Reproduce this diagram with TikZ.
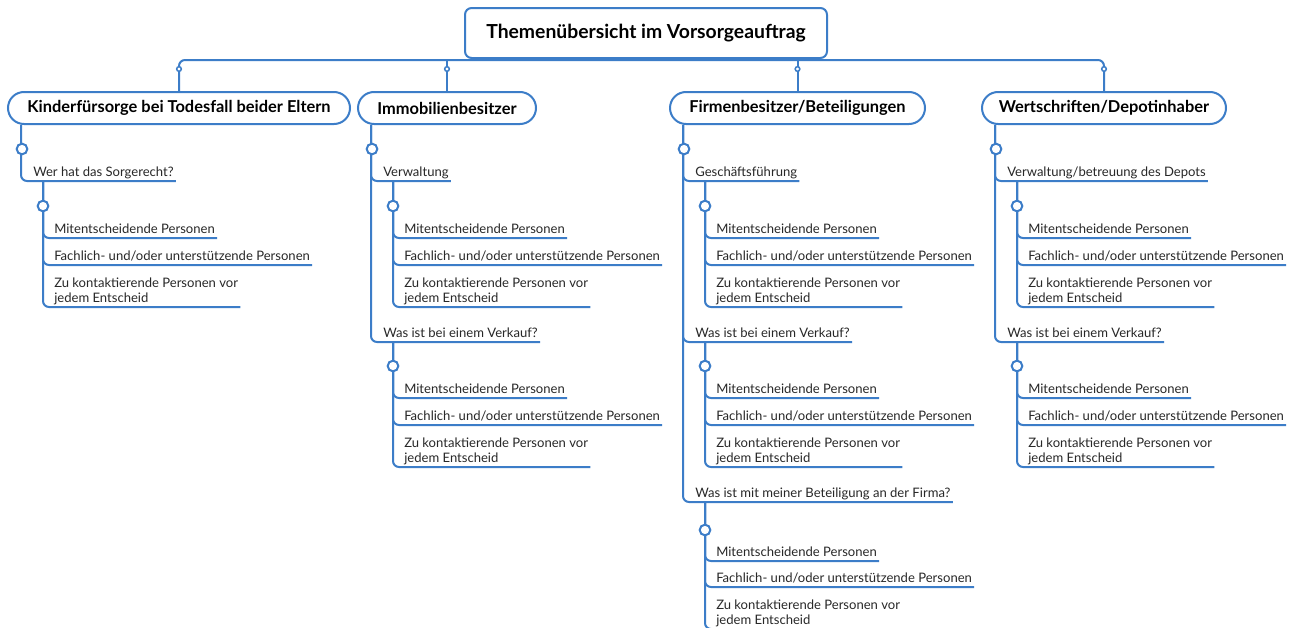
\documentclass[tikz,border=0pt]{standalone}
\usepackage{fontspec}
\setmainfont{Lato}
\definecolor{mapblue}{RGB}{60,125,200}
\definecolor{maptext}{RGB}{40,40,40}
\tikzset{
  link/.style={draw=mapblue, line width=1.5pt, rounded corners=4.5pt},
  knob/.style={circle, draw=mapblue, fill=white, line width=1.5pt, inner sep=0pt, minimum size=8pt},
  knobsmall/.style={circle, draw=mapblue, fill=white, line width=1.1pt, inner sep=0pt, minimum size=3.5pt},
  rootbox/.style={draw=mapblue, line width=1.5pt, fill=white, rounded corners=5pt, minimum width=271.5pt, minimum height=37.5pt, text=black, font=\bfseries\fontsize{14.5}{16}\selectfont},
  topicbox/.style={draw=mapblue, line width=1.5pt, fill=white, rounded corners=12pt, minimum height=24pt, text=black, font=\bfseries\fontsize{12.3}{14}\selectfont},
  item/.style={anchor=south west, inner xsep=1.5pt, inner ysep=0pt, text depth=3.3pt, align=left, text=maptext, font=\fontsize{9.8}{11.25}\selectfont},
}
\begin{document}
\begin{tikzpicture}[x=0.75pt, y=-0.75pt]
\useasboundingbox [fill=white] (0, 0) rectangle (1293, 628);

\node (root) at (646, 33) [rootbox] {Themenübersicht im Vorsorgeauftrag};
\node (k1) at (179, 108) [topicbox, minimum width=256.5pt] {Kinderfürsorge bei Todesfall beider Eltern};
\node (k2) at (447, 108) [topicbox, minimum width=133.5pt] {Immobilienbesitzer};
\node (k3) at (797.5, 108) [topicbox, minimum width=191.25pt] {Firmenbesitzer/Beteiligungen};
\node (k4) at (1104, 108) [topicbox, minimum width=183pt] {Wertschriften/Depotinhaber};
\coordinate (bar) at (0, 60);
\draw [link] (k1.north) -- (k1.north |- bar) -- (k4.north |- bar) -- (k4.north);
\draw [link] (k2.north) -- (k2.north |- bar);
\draw [link] (k3.north) -- (k3.north |- bar);
\node at (179, 69) [knobsmall] {};
\node at (447, 69) [knobsmall] {};
\node at (797.5, 69) [knobsmall] {};
\node at (1104, 69) [knobsmall] {};

% Kinderfuersorge
\node (k1a) at (31, 181) [item] {Wer hat das Sorgerecht?};
\draw [link] ([xshift=10.5pt]k1.south west) |- (k1a.south east);
\node (k1a1) at (52, 238) [item] {Mitentscheidende Personen};
\node (k1a2) at (52, 265) [item] {Fachlich- und/oder unterstützende Personen};
\node (k1a3) at (52, 307) [item] {Zu kontaktierende Personen vor\\jedem Entscheid};
\draw [link] ([xshift=9pt]k1a.south west) |- (k1a1.south east);
\draw [link] ([xshift=9pt]k1a.south west) |- (k1a2.south east);
\draw [link] ([xshift=9pt]k1a.south west) |- (k1a3.south east);
\node at (22, 149) [knob] {};
\node at (43, 206) [knob] {};

% Immobilienbesitzer
\node (k2a) at (381, 181) [item] {Verwaltung};
\node (k2b) at (381, 342) [item] {Was ist bei einem Verkauf?};
\draw [link] ([xshift=10.5pt]k2.south west) |- (k2a.south east);
\draw [link] ([xshift=10.5pt]k2.south west) |- (k2b.south east);
\node (k2a1) at (402, 238) [item] {Mitentscheidende Personen};
\node (k2a2) at (402, 265) [item] {Fachlich- und/oder unterstützende Personen};
\node (k2a3) at (402, 307) [item] {Zu kontaktierende Personen vor\\jedem Entscheid};
\draw [link] ([xshift=9pt]k2a.south west) |- (k2a1.south east);
\draw [link] ([xshift=9pt]k2a.south west) |- (k2a2.south east);
\draw [link] ([xshift=9pt]k2a.south west) |- (k2a3.south east);
\node (k2b1) at (402, 398) [item] {Mitentscheidende Personen};
\node (k2b2) at (402, 425) [item] {Fachlich- und/oder unterstützende Personen};
\node (k2b3) at (402, 467) [item] {Zu kontaktierende Personen vor\\jedem Entscheid};
\draw [link] ([xshift=9pt]k2b.south west) |- (k2b1.south east);
\draw [link] ([xshift=9pt]k2b.south west) |- (k2b2.south east);
\draw [link] ([xshift=9pt]k2b.south west) |- (k2b3.south east);
\node at (372, 149) [knob] {};
\node at (393, 206) [knob] {};
\node at (393, 366) [knob] {};

% Firmenbesitzer
\node (k3a) at (693, 181) [item] {Geschäftsführung};
\node (k3b) at (693, 342) [item] {Was ist bei einem Verkauf?};
\node (k3c) at (693, 502) [item] {Was ist mit meiner Beteiligung an der Firma?};
\draw [link] ([xshift=10.5pt]k3.south west) |- (k3a.south east);
\draw [link] ([xshift=10.5pt]k3.south west) |- (k3b.south east);
\draw [link] ([xshift=10.5pt]k3.south west) |- (k3c.south east);
\node (k3a1) at (714, 238) [item] {Mitentscheidende Personen};
\node (k3a2) at (714, 265) [item] {Fachlich- und/oder unterstützende Personen};
\node (k3a3) at (714, 307) [item] {Zu kontaktierende Personen vor\\jedem Entscheid};
\draw [link] ([xshift=9pt]k3a.south west) |- (k3a1.south east);
\draw [link] ([xshift=9pt]k3a.south west) |- (k3a2.south east);
\draw [link] ([xshift=9pt]k3a.south west) |- (k3a3.south east);
\node (k3b1) at (714, 398) [item] {Mitentscheidende Personen};
\node (k3b2) at (714, 425) [item] {Fachlich- und/oder unterstützende Personen};
\node (k3b3) at (714, 467) [item] {Zu kontaktierende Personen vor\\jedem Entscheid};
\draw [link] ([xshift=9pt]k3b.south west) |- (k3b1.south east);
\draw [link] ([xshift=9pt]k3b.south west) |- (k3b2.south east);
\draw [link] ([xshift=9pt]k3b.south west) |- (k3b3.south east);
\node (k3c1) at (714, 561) [item] {Mitentscheidende Personen};
\node (k3c2) at (714, 587) [item] {Fachlich- und/oder unterstützende Personen};
\node (k3c3) at (714, 629) [item] {Zu kontaktierende Personen vor\\jedem Entscheid};
\draw [link] ([xshift=9pt]k3c.south west) |- (k3c1.south east);
\draw [link] ([xshift=9pt]k3c.south west) |- (k3c2.south east);
\draw [link] ([xshift=9pt]k3c.south west) |- (k3c3.south east);
\node at (684, 149) [knob] {};
\node at (705, 206) [knob] {};
\node at (705, 366) [knob] {};
\node at (705, 530) [knob] {};

% Wertschriften
\node (k4a) at (1005, 181) [item] {Verwaltung/betreuung des Depots};
\node (k4b) at (1005, 342) [item] {Was ist bei einem Verkauf?};
\draw [link] ([xshift=10.5pt]k4.south west) |- (k4a.south east);
\draw [link] ([xshift=10.5pt]k4.south west) |- (k4b.south east);
\node (k4a1) at (1026, 238) [item] {Mitentscheidende Personen};
\node (k4a2) at (1026, 265) [item] {Fachlich- und/oder unterstützende Personen};
\node (k4a3) at (1026, 307) [item] {Zu kontaktierende Personen vor\\jedem Entscheid};
\draw [link] ([xshift=9pt]k4a.south west) |- (k4a1.south east);
\draw [link] ([xshift=9pt]k4a.south west) |- (k4a2.south east);
\draw [link] ([xshift=9pt]k4a.south west) |- (k4a3.south east);
\node (k4b1) at (1026, 398) [item] {Mitentscheidende Personen};
\node (k4b2) at (1026, 425) [item] {Fachlich- und/oder unterstützende Personen};
\node (k4b3) at (1026, 467) [item] {Zu kontaktierende Personen vor\\jedem Entscheid};
\draw [link] ([xshift=9pt]k4b.south west) |- (k4b1.south east);
\draw [link] ([xshift=9pt]k4b.south west) |- (k4b2.south east);
\draw [link] ([xshift=9pt]k4b.south west) |- (k4b3.south east);
\node at (996, 149) [knob] {};
\node at (1017, 206) [knob] {};
\node at (1017, 366) [knob] {};
\end{tikzpicture}
\end{document}
